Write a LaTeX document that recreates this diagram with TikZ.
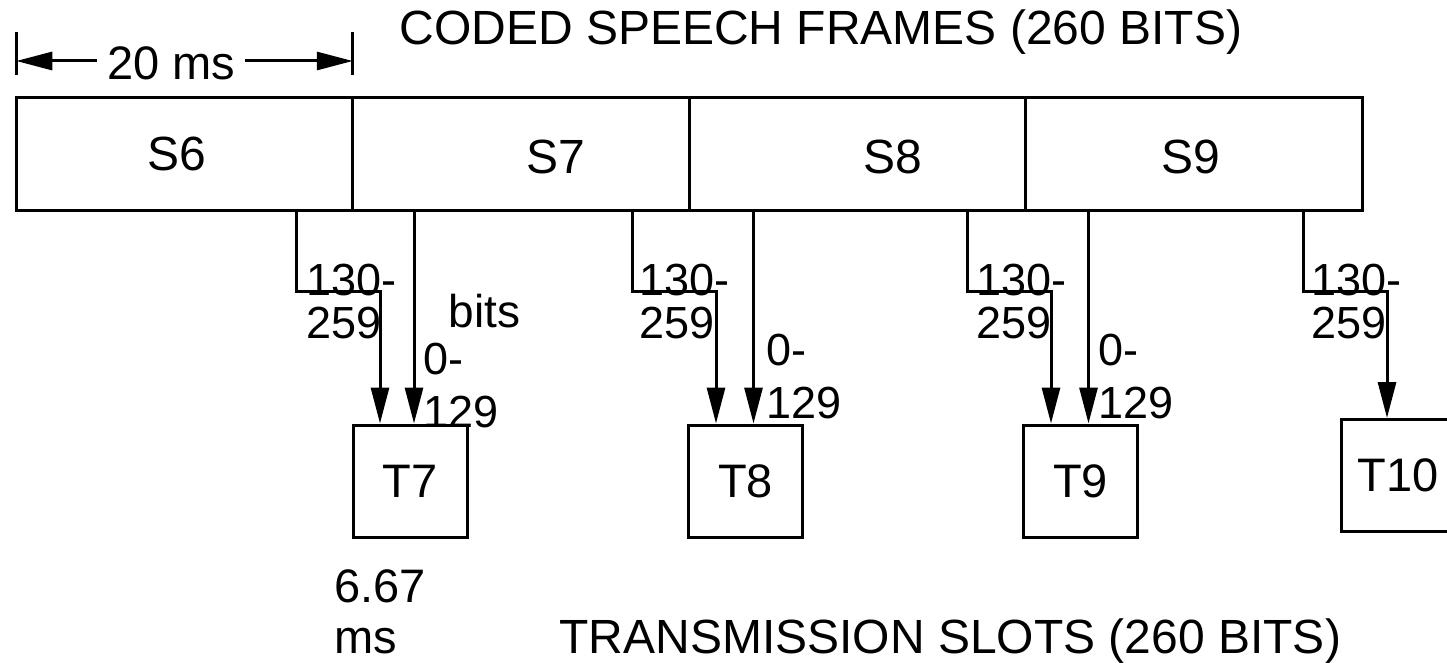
\documentclass[tikz,border=0pt]{standalone}
\usepackage{fontspec}
\setmainfont{Liberation Sans}
\usetikzlibrary{
  arrows.meta,
  positioning
}

\begin{document}
\begin{tikzpicture}[
  x=1pt, y=-1pt,
  font=\fontsize{48}{43}\selectfont,
  line width=3pt,
  cell/.style  ={draw,minimum width=336.5pt,minimum height=112pt,outer sep=0pt},
  slot/.style  ={draw,minimum width=114pt,minimum height=112pt,font=\fontsize{47}{43}\selectfont},
  bitlbl/.style={align=left,inner sep=0pt,anchor=north west,font=\fontsize{45}{43}\selectfont},
  caption/.style={inner sep=0pt,anchor=base west},
  arr/.style   ={-{Triangle[length=36pt,width=18pt]}},
  node distance=0pt,
]
\useasboundingbox (0,0) rectangle (1447,663);
\clip (0,0) rectangle (1447,663);

% coded speech frames
\node[cell,label={[xshift=-8pt]center:S6}] (s6) at (184.5,154) {};
\node[cell,right=of s6,label={[xshift=35pt,yshift=-3pt]center:S7}] (s7) {};
\node[cell,right=of s7,label={[xshift=35pt,yshift=-3pt]center:S8}] (s8) {};
\node[cell,right=of s8,label={[xshift=-3pt,yshift=-3pt]center:S9}] (s9) {};
\node[caption] (frametitle) at (398,45) {CODED SPEECH FRAMES (260 BITS)};

% 20 ms span of one frame
\coordinate (dl) at ([yshift=37pt]s6.north west);
\coordinate (dr) at ([yshift=37pt]s6.north east);
\node[inner xsep=9pt,inner ysep=0pt,font=\fontsize{47}{43}\selectfont] (dim) at (171,63.5) {20 ms};
\draw[arr] (dim.west |- dl) -- (dl);
\draw[arr] (dim.east |- dr) -- (dr);
\draw ([yshift=29pt]dl) -- ([yshift=-14pt]dl);
\draw ([yshift=29pt]dr) -- ([yshift=-14pt]dr);

% transmission slots
\node[slot] (t7)  at (410,481)    {T7};
\node[slot] (t8)  at (745.5,481)  {T8};
\node[slot] (t9)  at (1080.5,481) {T9};
\node[slot] (t10) at (1398,475.5) {T10};
\node[caption] (slottitle) at (558,653) {TRANSMISSION SLOTS (260 BITS)};
\node[bitlbl,font=\fontsize{47}{43}\selectfont] (dur) at (333,568) {6.67\\[8pt]ms};

% bit branches
\coordinate (a6) at ([xshift=111.5pt]s6.south);
\coordinate (b7) at ([xshift=-107pt]s7.south);
\coordinate (a7) at ([xshift=111pt]s7.south);
\coordinate (b8) at ([xshift=-104pt]s8.south);
\coordinate (a8) at ([xshift=110pt]s8.south);
\coordinate (b9) at ([xshift=-105.5pt]s9.south);
\coordinate (a9) at ([xshift=109.5pt]s9.south);

\draw[arr] (a6) -- ++(0,81) -| ([xshift=-30pt]t7.north);
\draw[arr] (b7) -- (b7 |- t7.north);
\draw[arr] (a7) -- ++(0,81) -| ([xshift=-29.5pt]t8.north);
\draw[arr] (b8) -- (b8 |- t8.north);
\draw[arr] (a8) -- ++(0,81) -| ([xshift=-29.5pt]t9.north);
\draw[arr] (b9) -- (b9 |- t9.north);
\draw[arr] (a9) -- ++(0,81) -| ([xshift=-11pt]t10.north);

\node[bitlbl] (l6) at (305,263)  {130-\\259};
\node[bitlbl] (l7) at (638,263)  {130-\\259};
\node[bitlbl] (l8) at (975,263)  {130-\\259};
\node[bitlbl] (l9) at (1310,263) {130-\\259};
\node[bitlbl] (m7) at (422,342)  {0-\\[10pt]129};
\node[bitlbl] (m8) at (765,333)  {0-\\[10pt]129};
\node[bitlbl] (m9) at (1097,333) {0-\\[10pt]129};
\node[caption,font=\fontsize{46}{43}\selectfont] (bits) at (447,327) {bits};
\end{tikzpicture}
\end{document}
